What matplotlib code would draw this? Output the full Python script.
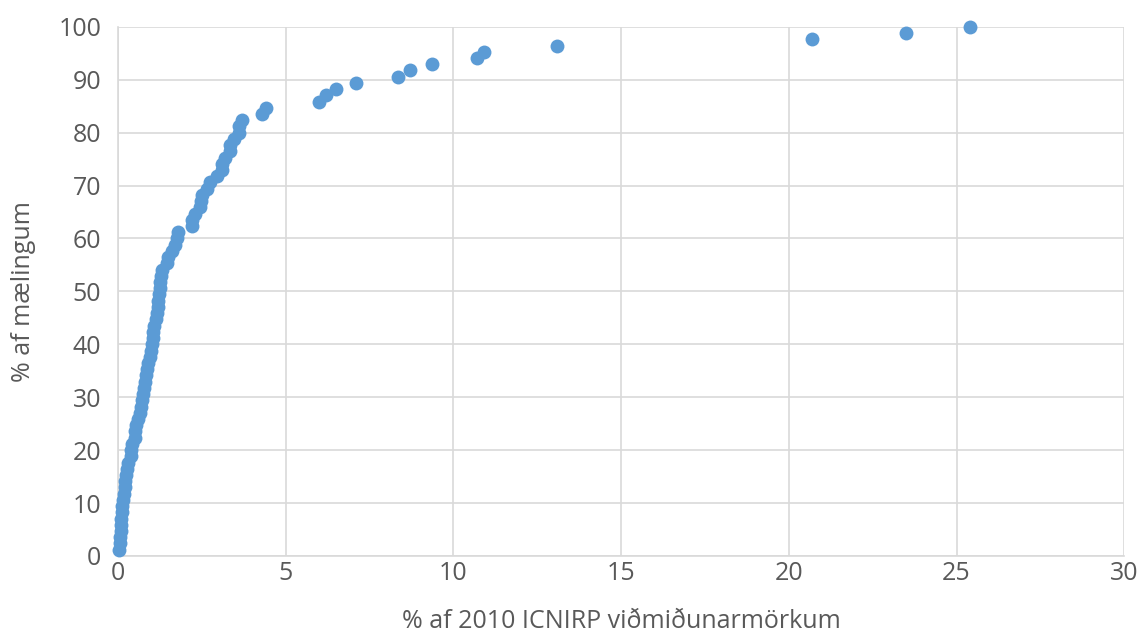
import numpy as np
import matplotlib.pyplot as plt

pct_limit = [
    0.02, 0.05, 0.07, 0.08, 0.09, 0.10, 0.12, 0.13, 0.15, 0.18,
    0.20, 0.22, 0.25, 0.27, 0.30, 0.38, 0.40, 0.42, 0.50, 0.52,
    0.55, 0.60, 0.65, 0.68, 0.72, 0.75, 0.78, 0.80, 0.82, 0.85,
    0.90, 0.95, 0.98, 1.00, 1.03, 1.05, 1.08, 1.12, 1.15, 1.18,
    1.20, 1.22, 1.24, 1.26, 1.27, 1.30, 1.45, 1.50, 1.60, 1.70,
    1.75, 1.80, 2.20, 2.20, 2.30, 2.45, 2.48, 2.50, 2.65, 2.75,
    2.95, 3.10, 3.10, 3.20, 3.35, 3.35, 3.45, 3.60, 3.60, 3.70,
    4.30, 4.40, 6.00, 6.20, 6.50, 7.10, 8.35, 8.70, 9.35, 10.70,
    10.90, 13.10, 20.70, 23.50, 25.40,
]
n = len(pct_limit)
pct_meas = [100.0 * (i + 1) / n for i in range(n)]  # cumulative share of measurements

x_ticks = [0, 5, 10, 15, 20, 25, 30]
y_ticks = list(range(0, 101, 10))

plt.rcParams['font.family'] = ['Open Sans', 'DejaVu Sans']
txt = '#595959'
grid_c = '#d9d9d9'

fig = plt.figure(figsize=(11.46, 6.39), dpi=100)
ax = fig.add_axes([0.103, 0.130, 0.878, 0.828])

ax.scatter(pct_limit, pct_meas, s=100, color='#5B9BD5', zorder=3,
           linewidths=0, clip_on=False)

ax.set_xlim(0, 30)
ax.set_ylim(0, 100)
ax.set_xticks(x_ticks)
ax.set_yticks(y_ticks)
ax.grid(True, color=grid_c, linewidth=1.2)
ax.set_axisbelow(True)
for s in ['top', 'right']:
    ax.spines[s].set_visible(False)
for s in ['left', 'bottom']:
    ax.spines[s].set_color(grid_c)
    ax.spines[s].set_linewidth(1.2)
ax.tick_params(length=0, labelsize=18, colors=txt)
ax.tick_params(axis='x', pad=4)
ax.tick_params(axis='y', pad=12)

ax.set_xlabel('% af 2010 ICNIRP viðmiðunarmörkum', fontsize=18, color=txt, labelpad=16)
ax.set_ylabel('% af mælingum', fontsize=18, color=txt, labelpad=16)

fig.savefig('out.png', dpi=100)
